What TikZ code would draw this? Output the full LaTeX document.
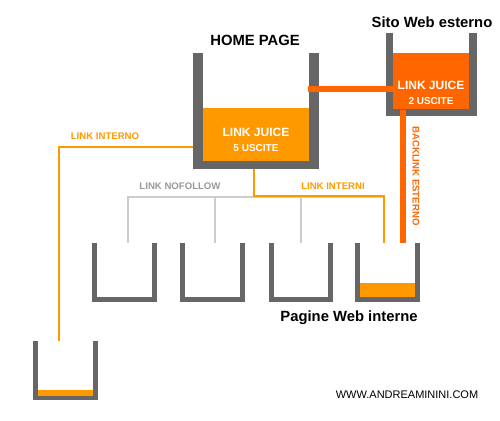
\documentclass[tikz,border=0pt]{standalone}
\usepackage{fontspec}
\setmainfont{Liberation Sans}
\definecolor{wall}{HTML}{666666}
\definecolor{juice}{HTML}{FF9900}
\definecolor{extjuice}{HTML}{FF6600}
\definecolor{nofol}{HTML}{CCCCCC}
\definecolor{nofoltext}{HTML}{999999}
\tikzset{
  title/.style={font=\fontsize{14.8}{16}\selectfont\bfseries, text=black, inner sep=0pt},
  juicebig/.style={font=\fontsize{12}{14}\selectfont\bfseries, text=white, inner sep=0pt},
  juicesmall/.style={font=\fontsize{10}{12}\selectfont\bfseries, text=white, inner sep=0pt},
  lbl/.style={font=\fontsize{9.6}{12}\selectfont\bfseries, inner sep=0pt},
  intlink/.style={juice, line width=2pt},
  nflink/.style={nofol, line width=2pt},
  extlink/.style={extjuice, line width=5.5pt},
}
\begin{document}
\begin{tikzpicture}[x=1pt,y=-1pt]
\useasboundingbox (0,0) rectangle (500,420);
\fill[white] (0,0) rectangle (500,420);

% connectors drawn first (behind containers)
\coordinate (hbot) at (254,168);
\coordinate (hsplit) at (254,196);
\coordinate (c4in) at (384,245);
\coordinate (c4corner) at (384,196);
\coordinate (nfA) at (128,244);
\coordinate (nfAc) at (128,197);
\coordinate (nfB) at (215,244);
\coordinate (nfBc) at (215,197);
\coordinate (nfC) at (301,244);
\coordinate (nfCc) at (301,197);
\coordinate (nfEnd) at (384,197);
\coordinate (hleft) at (204,147);
\coordinate (lcorner) at (59,147);
\coordinate (lend) at (59,357);
\coordinate (hright) at (308,89);
\coordinate (eleft) at (394,89);
\coordinate (ebot) at (403,110);
\coordinate (bend) at (403,247);

\draw[nflink] (nfA) -- (nfAc) -- (nfEnd);
\draw[nflink] (nfBc) -- (nfB);
\draw[nflink] (nfCc) -- (nfC);
\draw[intlink] (hbot) -- (hsplit) -- (c4corner) -- (c4in);
\draw[intlink] (hleft) -- (lcorner) -- (lend);

% home page container
\fill[wall] (193,53) rectangle (319,169);
\fill[white] (203,53) rectangle (309,161);
\fill[juice] (203,108) rectangle (309,161);
\node[juicebig] (hj) at (256,132) {LINK JUICE};
\node[juicesmall] (hu) at (256,148) {5 USCITE};
\node[title] (home) at (255,40) {HOME PAGE};

% external site container
\fill[wall] (386,33) rectangle (477,116);
\fill[white] (393,33) rectangle (469,109);
\fill[extjuice] (393,53) rectangle (469,109);
\node[juicebig] (ej) at (431,85) {LINK JUICE};
\node[juicesmall] (eu) at (431,101) {2 USCITE};
\node[title] (ext) at (432,22) {Sito Web esterno};

\draw[extlink] (hright) -- (eleft);
\draw[extlink] (ebot) -- (bend);

% bottom containers
\foreach \xa/\xb in {92/157, 180/245, 269/333, 355/420}{
  \fill[wall] (\xa,243) rectangle (\xb,302);
  \fill[white] (\xa+5,243) rectangle (\xb-5,297);
}
\fill[juice] (360,283) rectangle (415,297);

\fill[wall] (33,341) rectangle (98,400);
\fill[white] (38,341) rectangle (93,396);
\fill[juice] (38,390) rectangle (93,396);

% labels
\node[lbl, text=juice] (li) at (105,136) {LINK INTERNO};
\node[lbl, text=nofoltext] (lnf) at (180,186) {LINK NOFOLLOW};
\node[lbl, text=juice] (lis) at (333,186) {LINK INTERNI};
\node[lbl, text=extjuice, rotate=-90] (lb) at (416,176) {BACKLINK ESTERNO};
\node[title] (pwi) at (349,318) {Pagine Web interne};
\node[font=\fontsize{11}{13}\selectfont, inner sep=0pt] (www) at (407,395) {WWW.ANDREAMININI.COM};
\end{tikzpicture}
\end{document}
